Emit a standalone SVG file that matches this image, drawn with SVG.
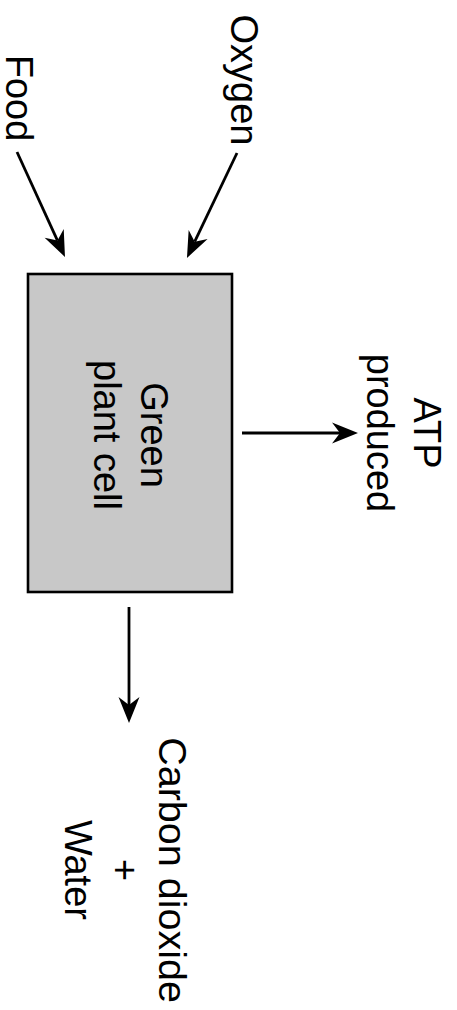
<svg xmlns="http://www.w3.org/2000/svg" width="457" height="1010" viewBox="0 0 457 1010">
  <style>
    .lbl { font-family: "Liberation Sans", Arial, Helvetica, sans-serif; font-size: 38px; fill: #000; text-anchor: middle; }
    .conn { stroke: #000; stroke-width: 2.8; fill: none; marker-end: url(#arrow); }
    .box { fill: #c8c8c8; stroke: #000; stroke-width: 2.6; }
  </style>
  <defs>
    <marker id="arrow" markerUnits="userSpaceOnUse" viewBox="0 0 26 21" markerWidth="26" markerHeight="21" refX="8" refY="10.5" orient="auto" overflow="visible">
      <path d="M0,0 L26,10.5 L0,21 L8,10.5 Z" fill="#000"/>
    </marker>
  </defs>
  <rect width="457" height="1010" fill="#fff"/>
  <g id="connectors">
    <line class="conn" x1="17" y1="152" x2="57.5" y2="240.6"/>
    <line class="conn" x1="237" y1="153" x2="194.7" y2="241.7"/>
    <line class="conn" x1="242" y1="433" x2="340" y2="433"/>
    <line class="conn" x1="129" y1="607" x2="129" y2="705"/>
  </g>
  <g id="cell">
    <rect class="box" x="28" y="274" width="204" height="318"/>
    <text class="lbl" transform="translate(141,435) rotate(90)"><tspan x="0" y="0">Green</tspan><tspan x="0" y="47">plant cell</tspan></text>
  </g>
  <g id="food">
    <text class="lbl" transform="translate(6,98) rotate(90)">Food</text>
  </g>
  <g id="oxygen">
    <text class="lbl" transform="translate(231,80) rotate(90)">Oxygen</text>
  </g>
  <g id="atp">
    <text class="lbl" transform="translate(414,433) rotate(90)"><tspan x="0" y="0">ATP</tspan><tspan x="0" y="47">produced</tspan></text>
  </g>
  <g id="products">
    <text class="lbl" transform="translate(159,870) rotate(90)"><tspan x="0" y="0" style="font-size:39.5px">Carbon dioxide</tspan><tspan x="0" y="47">+</tspan><tspan x="0" y="94">Water</tspan></text>
  </g>
</svg>
